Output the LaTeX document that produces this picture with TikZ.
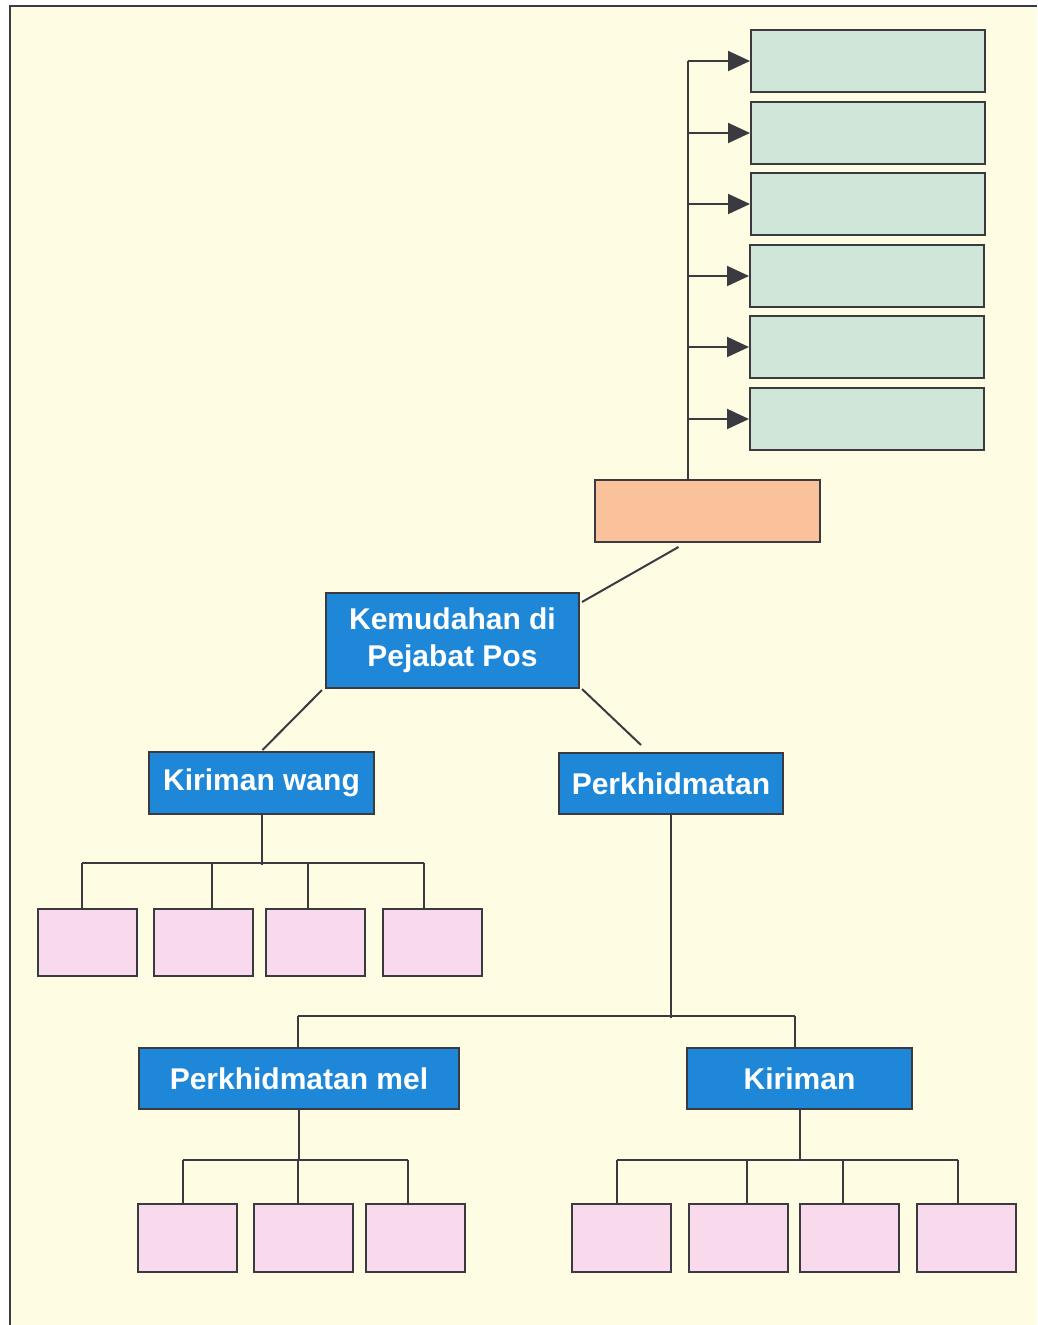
\documentclass[tikz,border=0pt]{standalone}
\usepackage{fontspec}
\setmainfont{Liberation Sans}
\usetikzlibrary{arrows.meta,calc}
\definecolor{bg}{HTML}{FEFDE4}
\definecolor{teal}{HTML}{CFE6D9}
\definecolor{pinkbox}{HTML}{F9D9EC}
\definecolor{orangebox}{HTML}{F9C29A}
\definecolor{bluebox}{HTML}{1E87D7}
\definecolor{ln}{HTML}{3A3A40}
\tikzset{
  box/.style={draw=ln, line width=2pt, inner sep=0pt, anchor=north west},
  tealbox/.style={box, fill=teal, minimum width=234pt, minimum height=62pt},
  pinkb/.style={box, fill=pinkbox, minimum width=99pt, minimum height=67pt},
  bluebx/.style={box, fill=bluebox, text=white, font=\bfseries\fontsize{30}{37}\selectfont, align=center},
  conn/.style={draw=ln, line width=2pt},
  arr/.style={conn, -{Triangle[length=22pt,width=20pt]}}
}
\begin{document}
\begin{tikzpicture}[x=1pt,y=-1pt]
\useasboundingbox (0,0) rectangle (1037,1325);
\fill[white] (0,0) rectangle (1037,1325);
\fill[bg] (10,6) rectangle (1037,1325);
\draw[ln, line width=2pt] (10,1325) -- (10,6) -- (1037,6);

% teal boxes
\node[tealbox] (t1) at (750,29) {};
\node[tealbox] (t2) at (750,101) {};
\node[tealbox] (t3) at (750,172) {};
\node[tealbox] (t4) at (749,244) {};
\node[tealbox] (t5) at (749,315) {};
\node[tealbox] (t6) at (749,387) {};

% orange box
\node[box, fill=orangebox, minimum width=225pt, minimum height=62pt] (o) at (594,479) {};

% blue boxes
\node[bluebx, minimum width=253pt, minimum height=95pt] (k) at (325,592) {Kemudahan di\\Pejabat Pos};
\node[bluebx, minimum width=225pt, minimum height=62pt] (kw) at (148,751) {Kiriman wang};
\node[bluebx, minimum width=224pt, minimum height=61pt] (ph) at (558,752) {Perkhidmatan};
\node[bluebx, minimum width=320pt, minimum height=61pt] (pm) at (138,1047) {Perkhidmatan mel};
\node[bluebx, minimum width=225pt, minimum height=61pt] (ki) at (686,1047) {Kiriman};

% pink boxes under Kiriman wang
\node[pinkb] (a1) at (37,908) {};
\node[pinkb] (a2) at (153,908) {};
\node[pinkb] (a3) at (265,908) {};
\node[pinkb] (a4) at (382,908) {};
% pink boxes under Perkhidmatan mel
\node[pinkb, minimum height=68pt] (b1) at (137,1203) {};
\node[pinkb, minimum height=68pt] (b2) at (253,1203) {};
\node[pinkb, minimum height=68pt] (b3) at (365,1203) {};
% pink boxes under Kiriman
\node[pinkb, minimum height=68pt] (c1) at (571,1203) {};
\node[pinkb, minimum height=68pt] (c2) at (688,1203) {};
\node[pinkb, minimum height=68pt] (c3) at (799,1203) {};
\node[pinkb, minimum height=68pt] (c4) at (916,1203) {};

% orange to teal arrows
\coordinate (obus) at ($(o.north)+(-20,0)$);
\draw[conn] (obus) -- (obus |- t1.west);
\foreach \t in {t1,t2,t3,t4,t5,t6}
  \draw[arr] (obus |- \t.west) -- (\t.west);

% orange to Kemudahan
\draw[conn] ($(o.south)+(-29,4)$) -- ($(k.north east)+(2,10)$);
% Kemudahan to children
\draw[conn] ($(k.south west)+(-3,1)$) -- ($(kw.north)+(1,-1)$);
\draw[conn] ($(k.south east)+(2,0)$) -- ($(ph.north)+(-30,-7)$);

% Kiriman wang tree
\coordinate (kwj) at ($(kw.south)+(0,50)$);
\coordinate (ad1) at (82,863);
\coordinate (ad2) at (212,863);
\coordinate (ad3) at (308,863);
\coordinate (ad4) at (424,863);
\draw[conn] (kw.south) -- (kwj);
\draw[conn] (ad1) -- (ad4);
\draw[conn] (ad1) -- (ad1 |- a1.north);
\draw[conn] (ad2) -- (ad2 |- a2.north);
\draw[conn] (ad3) -- (ad3 |- a3.north);
\draw[conn] (ad4) -- (ad4 |- a4.north);

% Perkhidmatan tree
\coordinate (phj) at ($(ph.south)+(0,203)$);
\coordinate (pd1) at (298,1016);
\coordinate (pd2) at (795,1016);
\draw[conn] (ph.south) -- (phj);
\draw[conn] (pd1) -- (pd2);
\draw[conn] (pd1) -- (pd1 |- pm.north);
\draw[conn] (pd2) -- (pd2 |- ki.north);

% Perkhidmatan mel tree
\coordinate (bd1) at (183,1160);
\coordinate (bd2) at (298,1160);
\coordinate (bd3) at (408,1160);
\draw[conn] (pm.south) -- (pm.south |- bd1);
\draw[conn] (bd1) -- (bd3);
\draw[conn] (bd1) -- (bd1 |- b1.north);
\draw[conn] (bd2) -- (bd2 |- b2.north);
\draw[conn] (bd3) -- (bd3 |- b3.north);

% Kiriman tree
\coordinate (cd1) at (617,1160);
\coordinate (cd2) at (747,1160);
\coordinate (cd3) at (843,1160);
\coordinate (cd4) at (958,1160);
\draw[conn] (ki.south) -- (ki.south |- cd1);
\draw[conn] (cd1) -- (cd4);
\draw[conn] (cd1) -- (cd1 |- c1.north);
\draw[conn] (cd2) -- (cd2 |- c2.north);
\draw[conn] (cd3) -- (cd3 |- c3.north);
\draw[conn] (cd4) -- (cd4 |- c4.north);
\end{tikzpicture}
\end{document}
